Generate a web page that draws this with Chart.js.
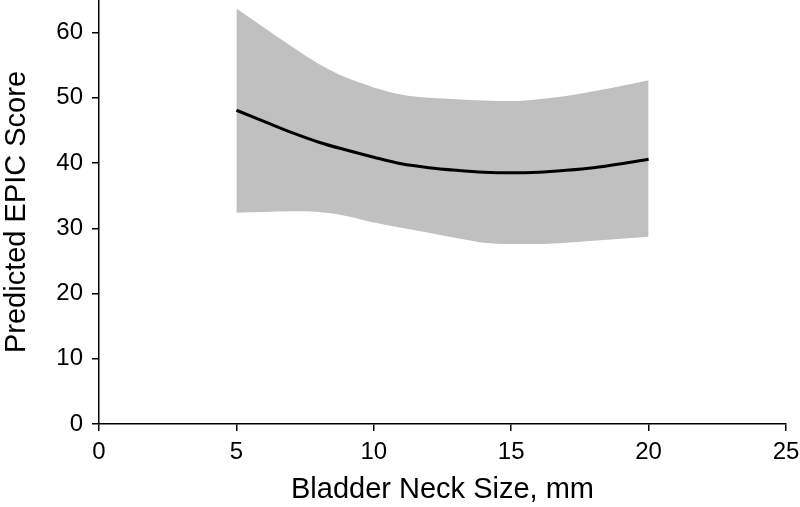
<!DOCTYPE html>
<html>
<head>
<meta charset="utf-8">
<script src="https://cdn.jsdelivr.net/npm/chart.js@4/dist/chart.umd.min.js"></script>
<style>
  html, body { margin: 0; padding: 0; background: #fff; }
  #wrap { width: 800px; height: 507px; }
</style>
</head>
<body>
<div id="wrap"><canvas id="bnChart" width="800" height="507"></canvas></div>
<script>
// bladder neck size (mm)
var neckSize = [5, 6, 7, 8, 9, 10, 11, 12, 13, 14, 15, 16, 17, 18, 19, 20];
// predicted EPIC score and 95% band
var predicted = [48.1, 46.4, 44.7, 43.2, 42.0, 40.9, 39.9, 39.3, 38.9, 38.6, 38.5, 38.6, 38.9, 39.3, 39.9, 40.6];
var upperCI   = [63.7, 60.8, 57.9, 55.2, 53.1, 51.6, 50.5, 50.0, 49.8, 49.6, 49.5, 49.8, 50.3, 51.0, 51.8, 52.7];
var lowerCI   = [32.4, 32.5, 32.6, 32.5, 31.9, 30.9, 30.1, 29.3, 28.5, 27.8, 27.6, 27.6, 27.8, 28.1, 28.4, 28.7];
var xTicks = [0, 5, 10, 15, 20, 25];
var yTicks = [0, 10, 20, 30, 40, 50, 60];

function pts(ys) {
  return neckSize.map(function (x, i) { return { x: x, y: ys[i] }; });
}

Chart.defaults.font.family = '"Liberation Sans", Arial, sans-serif';
Chart.defaults.color = '#000';

var ctx = document.getElementById('bnChart');
var myChart = new Chart(ctx, {
  type: 'scatter',
  data: {
    datasets: [{
      label: 'upper',
      data: pts(upperCI),
      showLine: true,
      borderWidth: 0,
      borderColor: 'rgba(0,0,0,0)',
      backgroundColor: '#c0c0c0',
      pointRadius: 0,
      cubicInterpolationMode: 'monotone',
      fill: '+1',
      order: 2
    }, {
      label: 'lower',
      data: pts(lowerCI),
      showLine: true,
      borderWidth: 0,
      borderColor: 'rgba(0,0,0,0)',
      backgroundColor: '#c0c0c0',
      pointRadius: 0,
      cubicInterpolationMode: 'monotone',
      fill: false,
      order: 2
    }, {
      label: 'Predicted',
      data: pts(predicted),
      showLine: true,
      borderColor: '#000',
      borderWidth: 3,
      pointRadius: 0,
      cubicInterpolationMode: 'monotone',
      fill: false,
      order: 1
    }]
  },
  options: {
    responsive: false,
    animation: false,
    layout: { padding: { left: 0, right: 14, top: 0, bottom: 0 } },
    plugins: {
      legend: { display: false },
      tooltip: { enabled: false }
    },
    scales: {
      x: {
        type: 'linear',
        min: 0,
        max: 25,
        afterBuildTicks: function (s) { s.ticks = xTicks.map(function (v) { return { value: v }; }); },
        afterFit: function (s) { s.height = 83; s.paddingLeft = 0; s.paddingRight = 0; },
        ticks: { font: { size: 24 }, padding: 7, maxRotation: 0 },
        grid: { drawOnChartArea: false, drawTicks: true, tickLength: 7, color: '#000', lineWidth: 1.5 },
        border: { display: true, color: '#000', width: 1.5 },
        title: { display: true, text: 'Bladder Neck Size, mm', font: { size: 29 }, padding: { top: 4, bottom: 0 } }
      },
      y: {
        type: 'linear',
        min: 0,
        max: 65,
        afterBuildTicks: function (s) { s.ticks = yTicks.map(function (v) { return { value: v }; }); },
        afterFit: function (s) { s.width = 99; s.paddingTop = 0; s.paddingBottom = 0; },
        ticks: { font: { size: 24 }, padding: 9 },
        grid: { drawOnChartArea: false, drawTicks: true, tickLength: 7, color: '#000', lineWidth: 1.5 },
        border: { display: true, color: '#000', width: 1.5 },
        title: { display: true, text: 'Predicted EPIC Score', font: { size: 29 }, padding: { top: 0, bottom: 0 } }
      }
    }
  }
});
</script>
</body>
</html>
